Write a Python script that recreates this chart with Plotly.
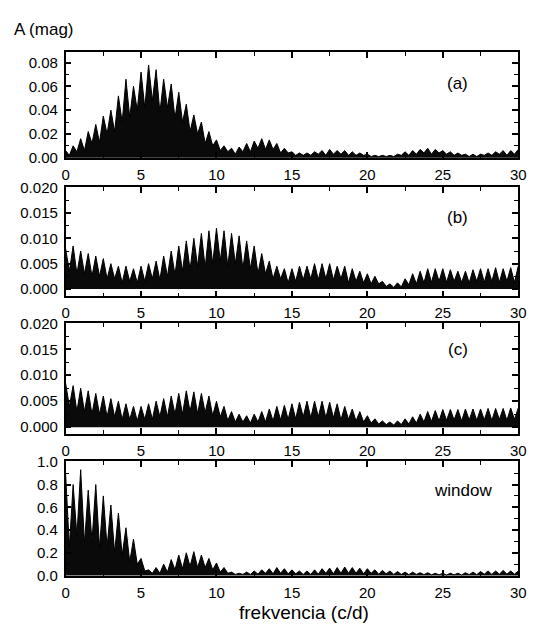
import plotly.graph_objects as go

W, H = 537, 631

# frequency grid (c/d), step 0.25
freq = [i * 0.25 for i in range(121)]

amp_a = [0.006, 0.002, 0.010, 0.005, 0.016, 0.006, 0.022, 0.012, 0.028, 0.013,
         0.035, 0.020, 0.040, 0.022, 0.052, 0.030, 0.066, 0.034, 0.060, 0.040,
         0.072, 0.042, 0.078, 0.048, 0.074, 0.038, 0.066, 0.042, 0.062, 0.033,
         0.055, 0.030, 0.045, 0.022, 0.036, 0.020, 0.030, 0.012, 0.022, 0.010,
         0.015, 0.006, 0.010, 0.005, 0.008, 0.003, 0.009, 0.005, 0.012, 0.005,
         0.014, 0.008, 0.016, 0.007, 0.015, 0.007, 0.012, 0.004, 0.008, 0.004,
         0.005, 0.002, 0.004, 0.002, 0.004, 0.002, 0.005, 0.003, 0.006, 0.002,
         0.007, 0.003, 0.006, 0.003, 0.006, 0.002, 0.005, 0.002, 0.004, 0.002,
         0.003, 0.001, 0.002, 0.001, 0.002, 0.001, 0.002, 0.001, 0.003, 0.002,
         0.005, 0.002, 0.006, 0.003, 0.007, 0.004, 0.008, 0.003, 0.007, 0.004,
         0.006, 0.003, 0.005, 0.002, 0.004, 0.002, 0.003, 0.001, 0.003, 0.001,
         0.003, 0.002, 0.004, 0.002, 0.005, 0.003, 0.006, 0.002, 0.006, 0.003,
         0.007]

amp_b = [0.008, 0.0035, 0.0085, 0.003, 0.0075, 0.003, 0.007, 0.0025, 0.0065, 0.0025,
         0.006, 0.002, 0.005, 0.002, 0.0045, 0.0012, 0.0045, 0.0015, 0.004, 0.0012,
         0.0045, 0.0015, 0.005, 0.002, 0.0055, 0.0018, 0.0065, 0.0025, 0.0075, 0.0028,
         0.0085, 0.0035, 0.0095, 0.0038, 0.010, 0.0045, 0.011, 0.0042, 0.0115, 0.005,
         0.012, 0.0055, 0.0115, 0.0045, 0.011, 0.005, 0.0105, 0.004, 0.0095, 0.004,
         0.0085, 0.003, 0.007, 0.003, 0.0055, 0.002, 0.0045, 0.002, 0.004, 0.0012,
         0.004, 0.0015, 0.0045, 0.0018, 0.0045, 0.002, 0.005, 0.0018, 0.005, 0.002,
         0.005, 0.0018, 0.0045, 0.002, 0.0045, 0.0012, 0.004, 0.0015, 0.0035, 0.0012,
         0.003, 0.001, 0.0025, 0.001, 0.0015, 0.0005, 0.001, 0.0003, 0.0012, 0.0004,
         0.002, 0.0008, 0.003, 0.001, 0.0035, 0.0012, 0.004, 0.0013, 0.004, 0.0015,
         0.004, 0.0013, 0.0038, 0.0015, 0.0035, 0.0013, 0.0035, 0.0012, 0.0038, 0.0015,
         0.004, 0.0013, 0.004, 0.0015, 0.0042, 0.0013, 0.004, 0.0015, 0.0042, 0.0013,
         0.0045]

amp_c = [0.0085, 0.004, 0.008, 0.003, 0.0075, 0.003, 0.007, 0.0025, 0.0065, 0.0025,
         0.006, 0.002, 0.0055, 0.002, 0.005, 0.0015, 0.0045, 0.0015, 0.004, 0.0012,
         0.004, 0.0015, 0.0045, 0.0015, 0.005, 0.002, 0.0055, 0.002, 0.006, 0.0025,
         0.0065, 0.0025, 0.007, 0.003, 0.0068, 0.0026, 0.0065, 0.0028, 0.006, 0.0022,
         0.005, 0.002, 0.004, 0.0013, 0.003, 0.001, 0.0025, 0.001, 0.0022, 0.0008,
         0.0025, 0.001, 0.003, 0.001, 0.0035, 0.0012, 0.004, 0.0014, 0.0042, 0.0015,
         0.0045, 0.0016, 0.0048, 0.002, 0.005, 0.0018, 0.005, 0.002, 0.005, 0.0018,
         0.0048, 0.0018, 0.0045, 0.0014, 0.004, 0.0015, 0.0035, 0.0012, 0.003, 0.001,
         0.0022, 0.0008, 0.0016, 0.0006, 0.0012, 0.0005, 0.001, 0.0004, 0.0012, 0.0005,
         0.0016, 0.0006, 0.002, 0.0008, 0.0025, 0.001, 0.003, 0.0011, 0.0032, 0.0012,
         0.0034, 0.0013, 0.0034, 0.0014, 0.0034, 0.0012, 0.0035, 0.0014, 0.0035, 0.0013,
         0.0035, 0.0014, 0.0036, 0.0013, 0.0036, 0.0015, 0.0036, 0.0013, 0.0037, 0.0015,
         0.0037]

amp_w = [0.90, 0.25, 0.80, 0.35, 0.93, 0.28, 0.75, 0.30, 0.80, 0.24,
         0.70, 0.25, 0.62, 0.20, 0.55, 0.18, 0.42, 0.12, 0.32, 0.10,
         0.15, 0.04, 0.05, 0.02, 0.07, 0.02, 0.10, 0.03, 0.14, 0.05,
         0.18, 0.06, 0.20, 0.08, 0.21, 0.07, 0.18, 0.07, 0.15, 0.05,
         0.11, 0.03, 0.07, 0.02, 0.03, 0.01, 0.02, 0.01, 0.03, 0.01,
         0.04, 0.012, 0.05, 0.02, 0.06, 0.015, 0.07, 0.02, 0.06, 0.015,
         0.05, 0.015, 0.04, 0.01, 0.04, 0.01, 0.05, 0.012, 0.06, 0.02,
         0.065, 0.015, 0.07, 0.02, 0.075, 0.02, 0.07, 0.02, 0.065, 0.015,
         0.06, 0.02, 0.05, 0.012, 0.045, 0.015, 0.04, 0.01, 0.035, 0.01,
         0.03, 0.008, 0.03, 0.01, 0.025, 0.008, 0.025, 0.006, 0.02, 0.006,
         0.02, 0.005, 0.02, 0.006, 0.02, 0.005, 0.025, 0.008, 0.03, 0.008,
         0.035, 0.012, 0.04, 0.01, 0.04, 0.012, 0.045, 0.012, 0.04, 0.012,
         0.04]

series = [amp_a, amp_b, amp_c, amp_w]
panel_labels = ["(a)", "(b)", "(c)", "window"]
y_ranges = [[-0.0003, 0.089], [-0.0015, 0.0201], [-0.0013, 0.0201], [-0.006, 1.005]]
y_dticks = [0.02, 0.005, 0.005, 0.2]
y_formats = [".2f", ".3f", ".3f", ".1f"]
x_ticks = [0, 5, 10, 15, 20, 25, 30]

# pixel geometry of each panel frame (top, bottom)
frames = [(45, 154), (184, 296), (323, 437), (465, 583)]
x_left, x_right = 63, 526
label_pos = [(464, 77), (464, 215), (464, 350), (470, 495)]

FONT = "Liberation Sans, Arial, sans-serif"
fig = go.Figure()
layout = dict(
    width=W, height=H,
    margin=dict(l=0, r=0, t=0, b=0),
    paper_bgcolor="white", plot_bgcolor="white",
    showlegend=False,
    font=dict(family=FONT, size=15, color="black"),
)
annotations = []
for i, (vals, (top, bot)) in enumerate(zip(series, frames)):
    n = "" if i == 0 else str(i + 1)
    fig.add_trace(go.Scatter(
        x=freq, y=vals, mode="lines", fill="tozeroy",
        fillcolor="#0a0a0a", line=dict(color="black", width=1),
        xaxis="x" + n, yaxis="y" + n, hoverinfo="skip"))
    axcommon = dict(showline=True, linecolor="black", linewidth=1.5, mirror="ticks",
                    ticks="inside", tickcolor="black", tickwidth=1.5, ticklen=6,
                    showgrid=False, zeroline=False,
                    tickfont=dict(family=FONT, size=15, color="black"))
    layout["xaxis" + n] = dict(
        domain=[x_left / W, x_right / W], anchor="y" + n, range=[0, 30],
        tickvals=x_ticks, ticklabelstandoff=2,
        minor=dict(ticks="inside", ticklen=4, tickwidth=1.2, tickcolor="black", dtick=2.5),
        **axcommon)
    layout["yaxis" + n] = dict(
        domain=[1 - bot / H, 1 - top / H], anchor="x" + n, range=y_ranges[i],
        tick0=0, dtick=y_dticks[i], tickformat=y_formats[i], ticklabelstandoff=3,
        minor=dict(ticks="inside", ticklen=4, tickwidth=1.2, tickcolor="black",
                   dtick=y_dticks[i] / 2, tick0=0),
        **axcommon)
    lx, ly = label_pos[i]
    annotations.append(dict(
        text=panel_labels[i], xref="paper", yref="paper",
        x=lx / W, y=1 - ly / H,
        showarrow=False, font=dict(family=FONT, size=17, color="black"),
        xanchor="center", yanchor="middle"))

annotations.append(dict(text="A (mag)", xref="paper", yref="paper",
                        x=8 / W, y=1 - 22 / H, xanchor="left", yanchor="middle",
                        showarrow=False, font=dict(family=FONT, size=17, color="black")))
annotations.append(dict(text="frekvencia (c/d)", xref="paper", yref="paper",
                        x=307 / W, y=1 - 620 / H, xanchor="center", yanchor="middle",
                        showarrow=False, font=dict(family=FONT, size=19, color="black")))
layout["annotations"] = annotations
fig.update_layout(**layout)
fig.write_html("out.html")
